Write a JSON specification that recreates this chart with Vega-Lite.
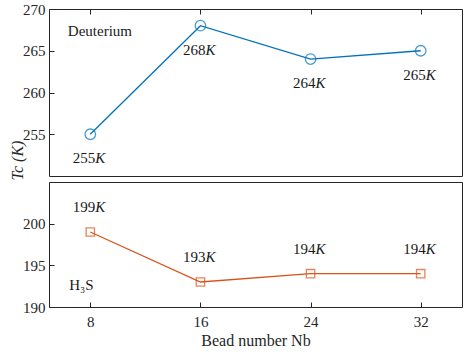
{
  "$schema": "https://vega.github.io/schema/vega-lite/v6.json",
  "padding": {"left": 8, "top": 1, "right": 5, "bottom": 3},
  "background": "white",
  "spacing": 6,
  "bounds": "flush",
  "config": {
    "font": "Liberation Serif",
    "view": {"stroke": "#262626", "strokeWidth": 1},
    "axis": {
      "grid": false,
      "domain": false,
      "labelFont": "Liberation Serif",
      "labelFontSize": 15,
      "labelColor": "#262626",
      "titleFont": "Liberation Serif",
      "titleFontSize": 16,
      "titleFontWeight": "normal",
      "titleColor": "#262626",
      "tickColor": "#262626",
      "tickSize": -5,
      "labelPadding": 9
    }
  },
  "vconcat": [
    {
      "width": 413,
      "height": 167,
      "data": {"values": [
        {"nb": 8, "tc": 255, "num": "255"},
        {"nb": 16, "tc": 268, "num": "268"},
        {"nb": 24, "tc": 264, "num": "264"},
        {"nb": 32, "tc": 265, "num": "265"}
      ]},
      "encoding": {
        "x": {"field": "nb", "type": "quantitative", "scale": {"domain": [5, 35]},
              "axis": {"orient": "top", "values": [8, 16, 24, 32], "labels": false, "title": null}},
        "y": {"field": "tc", "type": "quantitative", "scale": {"domain": [250, 270]},
              "axis": {"values": [255, 260, 265, 270], "title": "Tc (K)", "titleFontStyle": "italic",
                       "titleAngle": -90, "titleY": 151, "titleX": -27, "titleAlign": "center", "titleBaseline": "alphabetic"}}
      },
      "layer": [
        {"mark": {"type": "line", "color": "#0072BD", "strokeWidth": 1.3}},
        {"mark": {"type": "point", "shape": "circle", "size": 110, "color": "#0072BD", "filled": false, "strokeWidth": 1.3}},
        {"mark": {"type": "text", "font": "Liberation Serif", "fontSize": 15, "color": "#1a1a1a", "align": "right", "baseline": "middle", "dx": 5, "dy": 24},
         "encoding": {"text": {"field": "num"}}},
        {"mark": {"type": "text", "font": "Liberation Serif", "fontSize": 15, "color": "#1a1a1a", "align": "left", "baseline": "middle", "dx": 5, "dy": 24, "fontStyle": "italic"},
         "encoding": {"text": {"value": "K"}}},
        {"data": {"values": [{"name": "Deuterium", "nb": 8.7, "tc": 267.4}]},
         "mark": {"type": "text", "font": "Liberation Serif", "fontSize": 15, "color": "#1a1a1a", "align": "center", "baseline": "middle"},
         "encoding": {"text": {"field": "name"}}}
      ]
    },
    {
      "width": 413,
      "height": 125,
      "data": {"values": [
        {"nb": 8, "tc": 199, "num": "199"},
        {"nb": 16, "tc": 193, "num": "193"},
        {"nb": 24, "tc": 194, "num": "194"},
        {"nb": 32, "tc": 194, "num": "194"}
      ]},
      "encoding": {
        "x": {"field": "nb", "type": "quantitative", "scale": {"domain": [5, 35]},
              "axis": {"orient": "bottom", "values": [8, 16, 24, 32], "title": "Bead number Nb", "labelPadding": 12, "titlePadding": 3}},
        "y": {"field": "tc", "type": "quantitative", "scale": {"domain": [190, 205]},
              "axis": {"values": [190, 195, 200], "title": null}}
      },
      "layer": [
        {"mark": {"type": "line", "color": "#D95319", "strokeWidth": 1.3}},
        {"mark": {"type": "point", "shape": "square", "size": 70, "color": "#D95319", "filled": false, "strokeWidth": 1.3}},
        {"mark": {"type": "text", "font": "Liberation Serif", "fontSize": 15, "color": "#1a1a1a", "align": "right", "baseline": "middle", "dx": 5, "dy": -25},
         "encoding": {"text": {"field": "num"}}},
        {"mark": {"type": "text", "font": "Liberation Serif", "fontSize": 15, "color": "#1a1a1a", "align": "left", "baseline": "middle", "dx": 5, "dy": -25, "fontStyle": "italic"},
         "encoding": {"text": {"value": "K"}}},
        {"data": {"values": [{"name": "H₃S", "nb": 7.36, "tc": 192.7}]},
         "mark": {"type": "text", "font": "Liberation Serif", "fontSize": 15, "color": "#1a1a1a", "align": "center", "baseline": "middle"},
         "encoding": {"text": {"field": "name"}}}
      ]
    }
  ]
}
